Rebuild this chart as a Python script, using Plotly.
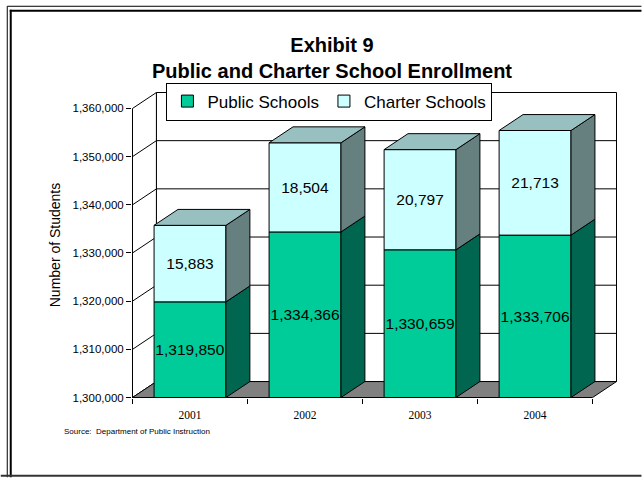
import plotly.graph_objects as go

# ---- data -------------------------------------------------------------
years = ["2001", "2002", "2003", "2004"]
public_schools = [1319850, 1334366, 1330659, 1333706]
charter_schools = [15883, 18504, 20797, 21713]
y_tick_values = [1300000, 1310000, 1320000, 1330000, 1340000, 1350000, 1360000]

# ---- geometry / style -------------------------------------------------
Y_MIN, Y_MAX = y_tick_values[0], y_tick_values[-1]
BAR_W = 0.625          # bar width in category units
DX = 0.208             # depth offset (category units)
DY = 3310              # depth offset (value units)

PUBLIC_FRONT, PUBLIC_SIDE = "#00CC99", "#006650"
CHARTER_FRONT, CHARTER_SIDE, CHARTER_TOP = "#CCFFFF", "#668080", "#99C0C0"
FLOOR = "#808080"
SANS = "Liberation Sans, Arial, sans-serif"
SERIF = "Liberation Serif, Times New Roman, serif"

W, H = 642, 478
PX_PER_X = 115.25
PX_PER_Y = 290 / 60000
X_LO = -0.5 - 0.5 / PX_PER_X
X_HI = 3.5 + DX + 0.5 / PX_PER_X
Y_LO = Y_MIN - 0.5 / PX_PER_Y
Y_HI = Y_MAX + DY + 0.5 / PX_PER_Y

left_px = 132 - (-0.5 - X_LO) * PX_PER_X
plot_w = (X_HI - X_LO) * PX_PER_X
bottom_px = 398 + (Y_MIN - Y_LO) * PX_PER_Y
plot_h = (Y_HI - Y_LO) * PX_PER_Y
top_px = bottom_px - plot_h


def px_x(px):
    return (px - left_px) / plot_w


def px_y(py):
    return (bottom_px - py) / plot_h


xs = list(range(len(years)))
totals = [p + c for p, c in zip(public_schools, charter_schools)]

fig = go.Figure()

# front faces
fig.add_trace(go.Bar(
    name="Public Schools", x=xs, y=[p - Y_MIN for p in public_schools], base=Y_MIN,
    width=BAR_W, marker=dict(color=PUBLIC_FRONT, line=dict(color="black", width=1)),
    text=[f"{p:,}" for p in public_schools], textposition="inside",
    insidetextanchor="middle", constraintext="none", textangle=0,
    insidetextfont=dict(family=SANS, size=15.5, color="black"),
))
fig.add_trace(go.Bar(
    name="Charter Schools", x=xs, y=charter_schools, base=public_schools,
    width=BAR_W, marker=dict(color=CHARTER_FRONT, line=dict(color="black", width=1)),
    text=[f"{c:,}" for c in charter_schools], textposition="inside",
    insidetextanchor="middle", constraintext="none", textangle=0,
    insidetextfont=dict(family=SANS, size=15.5, color="black"),
))


def side_faces(lo_vals, hi_vals):
    px, py = [], []
    for i, (lo, hi) in enumerate(zip(lo_vals, hi_vals)):
        xr = xs[i] + BAR_W / 2
        px += [xr, xr + DX, xr + DX, xr, xr, None]
        py += [lo, lo + DY, hi + DY, hi, lo, None]
    return px, py


def top_faces(hi_vals):
    px, py = [], []
    for i, hi in enumerate(hi_vals):
        xl, xr = xs[i] - BAR_W / 2, xs[i] + BAR_W / 2
        px += [xl, xl + DX, xr + DX, xr, xl, None]
        py += [hi, hi + DY, hi + DY, hi, hi, None]
    return px, py


for (fx, fy), colour in [
    (side_faces([Y_MIN] * len(xs), public_schools), PUBLIC_SIDE),
    (side_faces(public_schools, totals), CHARTER_SIDE),
    (top_faces(totals), CHARTER_TOP),
]:
    fig.add_trace(go.Scatter(
        x=fx, y=fy, mode="lines", fill="toself", fillcolor=colour,
        line=dict(color="black", width=1), showlegend=False, hoverinfo="skip",
    ))

# walls, floor and gridlines of the 3-D frame
shapes = [
    dict(type="rect", xref="x", yref="y", x0=-0.5 + DX, x1=3.5 + DX,
         y0=Y_MIN + DY, y1=Y_MAX + DY, fillcolor="white",
         line=dict(color="black", width=1), layer="below"),
    dict(type="path", xref="x", yref="y",
         path=f"M{-0.5},{Y_MIN} L{-0.5},{Y_MAX} L{-0.5 + DX},{Y_MAX + DY} L{-0.5 + DX},{Y_MIN + DY} Z",
         fillcolor="white", line=dict(color="black", width=1), layer="below"),
]
for t in y_tick_values[1:-1]:
    shapes.append(dict(type="line", xref="x", yref="y", x0=-0.5 + DX, x1=3.5 + DX,
                       y0=t + DY, y1=t + DY, line=dict(color="black", width=1), layer="below"))
    shapes.append(dict(type="line", xref="x", yref="y", x0=-0.5, x1=-0.5 + DX,
                       y0=t, y1=t + DY, line=dict(color="black", width=1), layer="below"))
shapes.append(dict(
    type="path", xref="x", yref="y",
    path=f"M{-0.5},{Y_MIN} L{3.5},{Y_MIN} L{3.5 + DX},{Y_MIN + DY} L{-0.5 + DX},{Y_MIN + DY} Z",
    fillcolor=FLOOR, line=dict(color="black", width=1), layer="below"))

# page frame
frame = dict(xref="paper", yref="paper", type="line", layer="above")
shapes += [
    dict(frame, x0=px_x(6.5), x1=px_x(6.5), y0=px_y(5.5), y1=px_y(478), line=dict(color="black", width=1)),
    dict(frame, x0=px_x(6.5), x1=px_x(642), y0=px_y(5.5), y1=px_y(5.5), line=dict(color="black", width=1)),
    dict(frame, x0=px_x(10), x1=px_x(10), y0=px_y(9), y1=px_y(478), line=dict(color="black", width=2)),
    dict(frame, x0=px_x(9), x1=px_x(642), y0=px_y(10), y1=px_y(10), line=dict(color="black", width=2)),
    dict(frame, x0=px_x(0), x1=px_x(642), y0=px_y(476.5), y1=px_y(476.5), line=dict(color="#333333", width=2)),
]

fig.update_layout(
    width=W, height=H, autosize=False,
    margin=dict(l=left_px, r=W - left_px - plot_w, t=top_px, b=H - bottom_px, pad=0),
    paper_bgcolor="white", plot_bgcolor="rgba(0,0,0,0)",
    barmode="overlay",
    font=dict(family=SANS, color="black"),
    title=dict(
        text="Exhibit 9<br>Public and Charter School Enrollment",
        font=dict(family=SANS, size=20, color="black", weight="bold"),
        x=332 / W, xref="container", xanchor="center",
        y=1 - 52 / H, yref="container", yanchor="top",
    ),
    legend=dict(
        orientation="h", x=px_x(166), xanchor="left", y=px_y(82), yanchor="top",
        bgcolor="white", bordercolor="black", borderwidth=1,
        font=dict(family=SANS, size=17, color="black"),
        traceorder="normal",
    ),
    xaxis=dict(
        range=[X_LO, X_HI], showgrid=False, zeroline=False, showline=False,
        tickmode="array", tickvals=xs, ticktext=years, ticks="",
        tickfont=dict(family=SERIF, size=11.5, color="black"),
        ticklabelstandoff=8,
        minor=dict(tickmode="array", tickvals=[x - 0.5 for x in xs] + [xs[-1] + 0.5],
                   ticks="outside", ticklen=5, tickcolor="black", tickwidth=1),
    ),
    yaxis=dict(
        range=[Y_LO, Y_HI], showgrid=False, zeroline=False, showline=False,
        tickmode="array", tickvals=y_tick_values, tickformat=",d",
        ticks="outside", ticklen=5, tickcolor="black", tickwidth=1,
        tickfont=dict(family=SANS, size=11.5, color="black"),
        title=dict(text="Number of Students", font=dict(family=SANS, size=14, color="black"),
                   standoff=8),
    ),
    shapes=shapes,
    annotations=[dict(
        text="Source:&nbsp; Department of Public Instruction", xref="paper", yref="paper",
        x=px_x(61), y=px_y(432), xanchor="left", yanchor="middle", showarrow=False,
        font=dict(family=SANS, size=8, color="black"),
    )],
)

fig.write_html("out.html")
